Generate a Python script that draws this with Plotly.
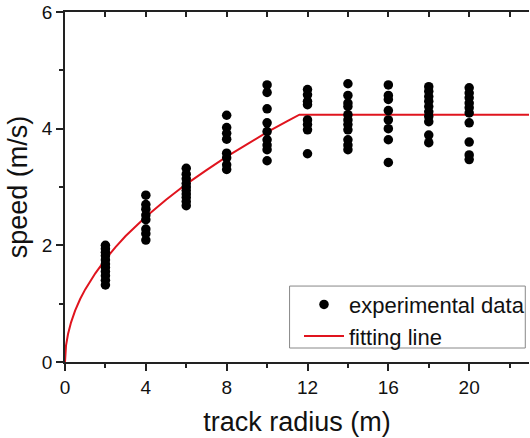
import plotly.graph_objects as go

# experimental data: track radius (m) and measured speed (m/s)
radius_levels = [2, 4, 6, 8, 10, 12, 14, 16, 18, 20]
speeds = {
    2: [2.00, 1.94, 1.88, 1.82, 1.75, 1.68, 1.62, 1.55, 1.48, 1.40, 1.32],
    4: [2.86, 2.70, 2.62, 2.52, 2.44, 2.28, 2.20, 2.09],
    6: [3.32, 3.22, 3.14, 3.06, 3.00, 2.94, 2.88, 2.82, 2.75, 2.68],
    8: [4.23, 4.02, 3.92, 3.82, 3.58, 3.50, 3.38, 3.30],
    10: [4.75, 4.62, 4.34, 4.10, 3.95, 3.81, 3.72, 3.64, 3.45],
    12: [4.67, 4.58, 4.47, 4.41, 4.15, 4.07, 3.98, 3.57],
    14: [4.77, 4.57, 4.44, 4.38, 4.24, 4.15, 4.07, 3.98, 3.81, 3.72, 3.64],
    16: [4.75, 4.57, 4.50, 4.31, 4.15, 4.00, 3.81, 3.42],
    18: [4.72, 4.64, 4.55, 4.47, 4.38, 4.29, 4.21, 4.12, 3.89, 3.76],
    20: [4.70, 4.61, 4.53, 4.44, 4.36, 4.27, 4.10, 3.77, 3.55, 3.47],
}

# fitting line
fit_x = [0, 0.05, 0.15, 0.3, 0.5, 0.75, 1, 1.5, 2, 2.5, 3, 4, 5, 6, 7, 8, 9, 10, 11, 11.6, 23]
fit_y = [0, 0.28, 0.48, 0.68, 0.88, 1.08, 1.245, 1.52, 1.76, 1.97, 2.16, 2.49, 2.78, 3.05, 3.29, 3.52, 3.73, 3.94, 4.13, 4.24, 4.24]

x_ticks = [0, 4, 8, 12, 16, 20]
y_ticks = [0, 2, 4, 6]

xs, ys = [], []
for r in radius_levels:
    for v in speeds[r]:
        xs.append(r)
        ys.append(v)

FONT = "Liberation Sans, Arial, sans-serif"
AX = "#222222"

fig = go.Figure()
fig.add_trace(go.Scatter(
    x=fit_x, y=fit_y, mode="lines", name="fitting line",
    line=dict(color="#e0141e", width=2), showlegend=True,
))
fig.add_trace(go.Scatter(
    x=xs, y=ys, mode="markers", name="experimental data",
    marker=dict(color="black", size=9.5),
))
# invisible trace to show the top axis
fig.add_trace(go.Scatter(x=[0], y=[0], xaxis="x2", mode="markers",
                         marker=dict(opacity=0), showlegend=False, hoverinfo="skip"))

# legend frame
fig.add_shape(type="rect", xref="paper", yref="paper",
              x0=0.484, x1=0.992, y0=0.04, y1=0.217,
              line=dict(color="#888888", width=1), fillcolor="white", layer="above")

fig.update_layout(
    width=530, height=438,
    margin=dict(l=65, r=0, t=12, b=76),
    paper_bgcolor="white", plot_bgcolor="white",
    font=dict(family=FONT, color="#111111"),
    showlegend=True,
    legend=dict(
        x=0.504, y=0.224, xanchor="left", yanchor="top",
        borderwidth=0, bgcolor="rgba(0,0,0,0)",
        font=dict(size=22, family=FONT), traceorder="reversed",
        tracegroupgap=0, itemwidth=40,
    ),
    xaxis=dict(
        range=[0, 22.96], tickvals=x_ticks, ticks="outside", ticklen=7, tickwidth=1.5,
        tickcolor=AX, showline=True, linecolor=AX, linewidth=1.5, showgrid=False,
        zeroline=False, tickfont=dict(size=19),
        minor=dict(dtick=2, tick0=0, ticks="outside", ticklen=4, tickwidth=1.5, tickcolor=AX),
        title=dict(text="track radius (m)", font=dict(size=27), standoff=16),
    ),
    xaxis2=dict(
        overlaying="x", side="top", matches="x", range=[0, 22.96], tickvals=x_ticks,
        ticks="inside", ticklen=5, tickwidth=1.5, tickcolor=AX, showline=True,
        linecolor=AX, linewidth=1.5, showticklabels=False, showgrid=False, zeroline=False,
        minor=dict(dtick=2, tick0=0, ticks="inside", ticklen=5, tickwidth=1.5, tickcolor=AX),
    ),
    yaxis=dict(
        range=[0, 6], tickvals=y_ticks, ticks="outside", ticklen=7, tickwidth=1.5,
        tickcolor=AX, showline=True, linecolor=AX, linewidth=1.5, showgrid=False,
        zeroline=False, tickfont=dict(size=19),
        minor=dict(dtick=1, tick0=0, ticks="outside", ticklen=4, tickwidth=1.5, tickcolor=AX),
        title=dict(text="speed (m/s)", font=dict(size=27), standoff=6),
    ),
)

fig.write_html("out.html")
